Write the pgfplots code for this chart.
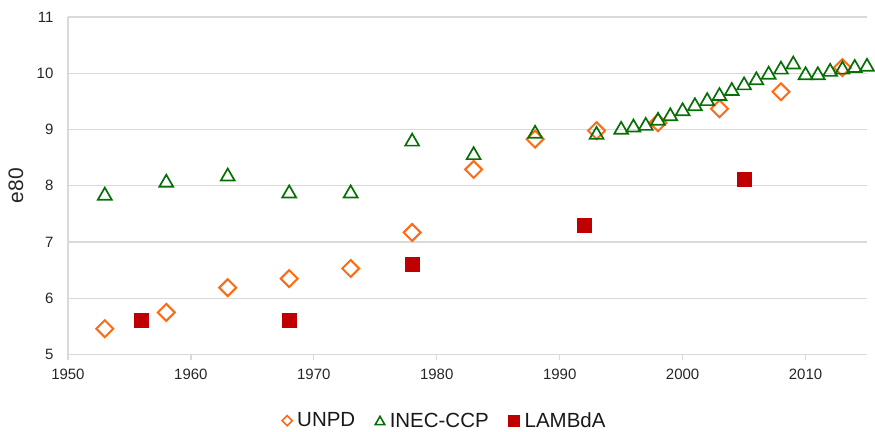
\documentclass[border=0pt]{standalone}
\usepackage{fontspec}
\setmainfont{Liberation Sans}
\usepackage{pgfplots}
\pgfplotsset{compat=1.18}

\definecolor{unpd}{HTML}{FF6A13}
\definecolor{inec}{HTML}{067006}
\definecolor{lambda}{HTML}{C00000}
\definecolor{gridgray}{HTML}{D9D9D9}

\begin{document}
\begin{tikzpicture}
\begin{axis}[
    name=main,
    scale only axis,
    width=800pt, height=338pt,
    xmin=1950, xmax=2015,
    ymin=5, ymax=11,
    xtick={1950,1960,...,2010},
    ytick={5,6,...,11},
    axis x line*=bottom,
    axis y line*=left,
    axis line style={gridgray, line width=1.3pt},
    ymajorgrids,
    major grid style={gridgray, line width=1.3pt},
    xtick style={gridgray, line width=1.3pt},
    x tick label style={yshift=-6pt},
    xtick align=outside,
    major tick length=5pt,
    ytick style={draw=none},
    y tick label style={xshift=-11pt},
    /pgf/number format/1000 sep={},
    /pgf/number format/assume math mode=true,
    tick label style={font=\fontsize{15}{17}\selectfont, text=black!85},
    ylabel={e80},
    every axis y label/.style={at={(axis description cs:-0.065,0.5)}, rotate=90,
        anchor=center, font=\fontsize{21}{24}\selectfont, text=black!85},
    legend style={at={(0.471,-0.162)}, anchor=north, legend columns=3, draw=none,
        font=\fontsize{20.5}{22}\selectfont, text=black!90,
        /tikz/every odd column/.append style={column sep=4pt},
        /tikz/every even column/.append style={column sep=19pt},
        nodes={inner sep=1pt}},
    legend image code/.code={\draw[#1] plot coordinates {(3pt,0pt)};},
    clip=false,
]
\addplot[forget plot, only marks, mark=square, mark size=6pt,
    mark options={rotate=45, draw=unpd, line width=2pt, fill=white}] coordinates {
    (1953,5.46) (1958,5.75) (1963,6.19) (1968,6.35) (1973,6.53)
    (1978,7.17) (1983,8.29) (1988,8.83) (1993,8.98) (1998,9.12)
    (2003,9.37) (2008,9.67) (2013,10.10)
};
\addplot[forget plot, only marks, mark=triangle, mark size=8pt,
    mark options={draw=inec, line width=1.7pt, fill=white, yshift=-2pt}] coordinates {
    (1953,7.86) (1958,8.09) (1963,8.20) (1968,7.90) (1973,7.90)
    (1978,8.82) (1983,8.58) (1988,8.96) (1993,8.94)
    (1995,9.03) (1996,9.07) (1997,9.10) (1998,9.19) (1999,9.27)
    (2000,9.36) (2001,9.45) (2002,9.54) (2003,9.63) (2004,9.72)
    (2005,9.82) (2006,9.91) (2007,10.01) (2008,10.10) (2009,10.19)
    (2010,10.00) (2011,10.00) (2012,10.06) (2013,10.10) (2014,10.13)
    (2015,10.15)
};
\addplot[forget plot, only marks, mark=square*, mark size=7pt,
    mark options={draw=lambda, fill=lambda, line width=0pt}] coordinates {
    (1956,5.60) (1968,5.60) (1978,6.60) (1992,7.30) (2005,8.11)
};
\addlegendimage{only marks, mark=square, mark size=3.6pt,
    mark options={rotate=45, draw=unpd, line width=1.6pt, fill=white}}
\addlegendimage{only marks, mark=triangle, mark size=5.5pt,
    mark options={draw=inec, line width=1.6pt, fill=white, yshift=-1.2pt}}
\addlegendimage{only marks, mark=square*, mark size=5.5pt,
    mark options={draw=lambda, fill=lambda, line width=0pt}}
\legend{UNPD, INEC-CCP, LAMBdA}
\end{axis}
\path ([xshift=-68pt,yshift=17pt]main.north west) ([xshift=8pt,yshift=-75pt]main.south east);
\end{tikzpicture}
\end{document}
